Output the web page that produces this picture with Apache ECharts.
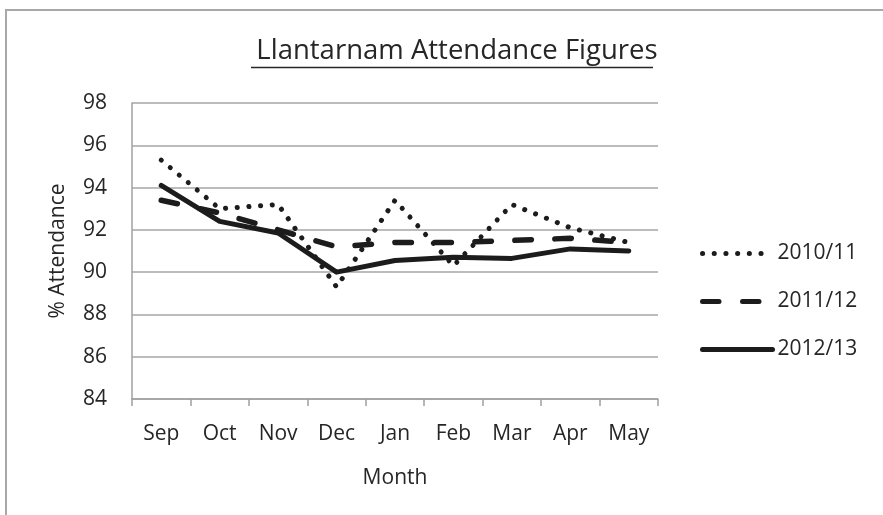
<!DOCTYPE html>
<html>
<head>
<meta charset="utf-8">
<script src="https://cdn.jsdelivr.net/npm/echarts@6/dist/echarts.min.js"></script>
<style>html,body{margin:0;padding:0;background:#fff}#c{width:883px;height:515px}</style>
</head>
<body>
<div id="c"></div>
<script>
const months = ['Sep','Oct','Nov','Dec','Jan','Feb','Mar','Apr','May'];
const s2010 = [95.3, 93.0, 93.2, 89.3, 93.4, 90.3, 93.2, 92.1, 91.4];
const s2011 = [93.4, 92.8, 92.0, 91.2, 91.4, 91.4, 91.5, 91.6, 91.4];
const s2012 = [94.1, 92.4, 91.85, 90.0, 90.55, 90.7, 90.65, 91.1, 91.0];
const seriesNames = ['2010/11', '2011/12', '2012/13'];
const yTicks = [84, 86, 88, 90, 92, 94, 96, 98];

const FONT = '"Open Sans", "Liberation Sans", sans-serif';
const INK = '#1c1c1c';
const TXT = '#262626';
const chart = echarts.init(document.getElementById('c'), null, {renderer: 'canvas'});
chart.setOption({
  animation: false,
  backgroundColor: '#fff',
  title: {
    text: 'Llantarnam Attendance Figures',
    left: 452, top: 32, textAlign: 'center',
    textStyle: {fontFamily: FONT, fontSize: 27.5, fontWeight: 'normal', color: TXT}
  },
  graphic: [
    {type: 'rect', shape: {x: 6, y: 10, width: 1000, height: 700}, style: {fill: 'none', stroke: '#a8a8a8', lineWidth: 2}, silent: true, z: -1},
    {type: 'line', shape: {x1: 251, y1: 67.5, x2: 653, y2: 67.5}, style: {stroke: TXT, lineWidth: 1.5}, silent: true}
  ],
  grid: {left: 132, top: 103, right: 225, bottom: 116},
  legend: {
    orient: 'vertical', left: 695, top: 238, itemWidth: 70, itemHeight: 20, itemGap: 27,
    data: seriesNames,
    itemStyle: {opacity: 0, borderWidth: 0},
    lineStyle: {width: 5},
    textStyle: {fontFamily: FONT, fontSize: 21, color: TXT}
  },
  xAxis: {
    type: 'category', data: months, boundaryGap: true,
    name: 'Month', nameLocation: 'middle', nameGap: 69,
    nameTextStyle: {fontFamily: FONT, fontSize: 21, color: TXT},
    axisLine: {lineStyle: {color: '#a0a0a0', width: 1.5}},
    axisTick: {show: true, length: 7, lineStyle: {color: '#a0a0a0', width: 1.5}},
    axisLabel: {fontFamily: FONT, fontSize: 21, color: TXT, margin: 25}
  },
  yAxis: {
    type: 'value', min: yTicks[0], max: yTicks[yTicks.length - 1], interval: 2,
    name: '% Attendance', nameLocation: 'middle', nameGap: 63,
    nameTextStyle: {fontFamily: FONT, fontSize: 21, color: TXT},
    axisLine: {show: true, lineStyle: {color: '#a0a0a0', width: 1.5}},
    axisTick: {show: false},
    splitLine: {lineStyle: {color: '#a6a6a6', width: 1.5}},
    axisLabel: {fontFamily: FONT, fontSize: 21, color: TXT, margin: 25}
  },
  series: [
    {name: seriesNames[0], type: 'line', data: s2010, symbol: 'none', showSymbol: false,
     lineStyle: {color: INK, width: 5, type: [0.1, 11.6], cap: 'round'}, itemStyle: {color: INK}},
    {name: seriesNames[1], type: 'line', data: s2011, symbol: 'none', showSymbol: false,
     lineStyle: {color: INK, width: 5.5, type: [16.5, 23.5], cap: 'round'}, itemStyle: {color: INK}},
    {name: seriesNames[2], type: 'line', data: s2012, symbol: 'none', showSymbol: false,
     lineStyle: {color: INK, width: 5, type: 'solid', cap: 'round', join: 'round'}, itemStyle: {color: INK}}
  ]
});
</script>
</body>
</html>
